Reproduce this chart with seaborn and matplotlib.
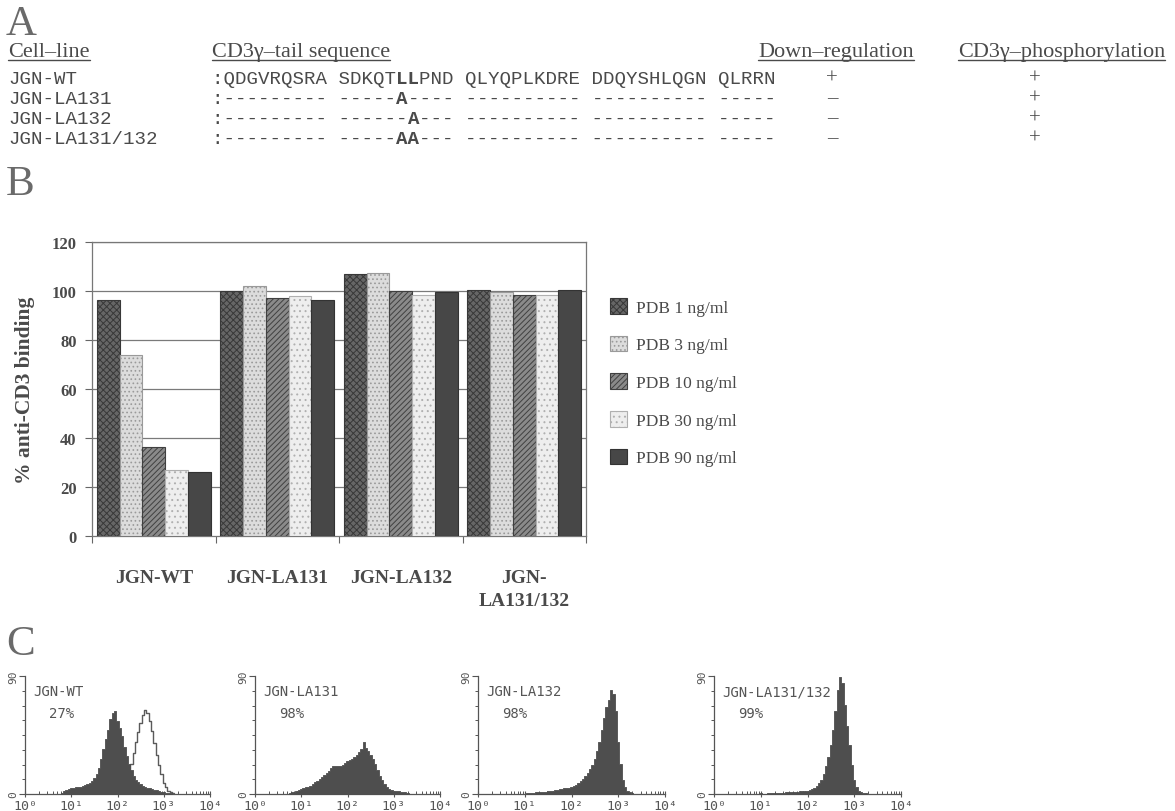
import numpy as np
import pandas as pd
import matplotlib
matplotlib.use("Agg")
import matplotlib.pyplot as plt
import seaborn as sns
from matplotlib.lines import Line2D
from matplotlib.ticker import FixedLocator, NullFormatter

# ------------------------------------------------------------------ data
cell_lines = ["JGN-WT", "JGN-LA131", "JGN-LA132", "JGN-LA131/132"]
bar_tick_labels = ["JGN-WT", "JGN-LA131", "JGN-LA132", "JGN-\nLA131/132"]
doses = ["PDB 1 ng/ml", "PDB 3 ng/ml", "PDB 10 ng/ml", "PDB 30 ng/ml", "PDB 90 ng/ml"]
binding_wt = [96.5, 74, 36.5, 27, 26]
binding_la131 = [100, 102, 97, 98, 96.5]
binding_la132 = [107, 107.5, 100, 98.5, 99.5]
binding_la131_132 = [100.5, 99.5, 98.5, 98.5, 100.5]
y_ticks = [0, 20, 40, 60, 80, 100, 120]

sequences = [
    ":QDGVRQSRA SDKQTLLPND QLYQPLKDRE DDQYSHLQGN QLRRN",
    ":--------- -----A---- ---------- ---------- -----",
    ":--------- ------A--- ---------- ---------- -----",
    ":--------- -----AA--- ---------- ---------- -----",
]
bold_positions = [[16, 17], [16], [17], [16, 17]]
down_regulation = ["+", "\u2013", "\u2013", "\u2013"]
phosphorylation = ["+", "+", "+", "+"]
headers = ["Cell\u2013line", "CD3\u03b3\u2013tail sequence", "Down\u2013regulation",
           "CD3\u03b3\u2013phosphorylation"]

hist_pct = ["27%", "98%", "98%", "99%"]
decade_labels = ["10\u2070", "10\u00b9", "10\u00b2", "10\u00b3", "10\u2074"]
# flow-cytometry histograms: first log10 channel (bin centre, 0.05-decade bins) and counts
wt_start = 0.80
wt_counts = [0.5, 2, 3, 3.5, 4.4, 4.5, 5, 5.3, 5.7, 6, 6.6, 7.5, 8.6, 10, 12, 15.5, 20, 27,
             34, 42, 49, 57, 62, 63, 56, 50, 44, 36, 29, 23, 18, 14, 11, 9, 7.4, 6.3, 5.4,
             4.8, 4.2, 3.7, 3.2, 2.7, 2.2, 1.8, 1.5, 1.1, 0.7, 0.4]
wt_control_start = 2.00
wt_control_counts = [3, 4, 6, 9, 12, 17, 23, 31, 40, 47, 54, 60, 64, 62, 56, 48, 39, 30, 22,
                     15, 8.6, 5, 2.5, 1.2, 0.5]
la131_start = 0.75
la131_counts = [0.8, 1.3, 1.6, 2, 3, 3.8, 4.4, 5, 5.6, 6.3, 7.6, 9, 10, 11.4, 13, 14.5, 16,
                17.8, 19.5, 21, 21, 21, 21.5, 22, 23.5, 25, 26, 27, 28.5, 30, 32, 34, 40, 35,
                33, 30, 27, 23, 18, 14, 10.5, 7.6, 5.5, 3.8, 3, 2.5, 2.2, 2, 1.9, 1.8, 1.4, 1]
la132_start = 1.05
la132_counts = [0.8, 1, 1, 1, 1.2, 1.3, 1.5, 1.6, 1.9, 2.1, 2.4, 2.6, 3, 3.3, 3.7, 4, 4.2,
                4.5, 4.8, 5, 6, 7, 8.3, 9.7, 11.5, 13.6, 16, 19, 22.5, 27, 33, 40, 49, 58, 66,
                72, 79, 76, 63, 40, 23, 11, 5, 2.6, 1.6, 1]
la131_132_start = 1.00
la131_132_counts = [1, 0.3, 0.3, 0.8, 0.5, 0.8, 1, 0.8, 1, 1, 1.1, 1.2, 1.3, 1.4, 1.5, 1.6,
                    1.8, 2, 2.2, 2.4, 2.6, 3, 3.7, 4.8, 6.3, 8.5, 11, 15, 21, 28, 37, 49, 63,
                    79, 89, 85, 68, 52, 37, 22, 11, 5.5, 2.6, 1.6, 1, 0.5]

# ------------------------------------------------------------------ style
sns.set_theme(style="white")
SERIF = "Liberation Serif"
MONO = "Liberation Mono"
PIX = "DejaVu Sans Mono"
TXT = "#4a4a4a"
plt.rcParams["font.family"] = ["DejaVu Sans"]
plt.rcParams["hatch.linewidth"] = 0.7

W, H = 1175, 812
fig = plt.figure(figsize=(W / 100, H / 100), dpi=100, facecolor="white")


def fx(px):
    return px / W


def fy(py):
    return 1 - py / H


def ax_rect(x0, y0, x1, y1):
    return [fx(x0), fy(y1), fx(x1) - fx(x0), fy(y0) - fy(y1)]


# ------------------------------------------------------------------ panel A
for letter, ybase in [("A", 35), ("B", 195), ("C", 655)]:
    fig.text(fx(6), fy(ybase), letter, family=SERIF, fontsize=31, color="#6a6a6a",
             ha="left", va="baseline")

header_x = [8, 212, 758, 958]
header_base = 57
header_texts = []
for hx, htxt in zip(header_x, headers):
    header_texts.append(fig.text(fx(hx), fy(header_base), htxt, family=SERIF, fontsize=16,
                                 color=TXT, ha="left", va="baseline"))


def segments(seq, bold):
    """split a sequence row into runs of plain / bold characters"""
    runs = []
    start = 0
    for i in range(1, len(seq) + 1):
        if i == len(seq) or ((i in bold) != (start in bold)):
            runs.append((start, seq[start:i], start in bold))
            start = i
    return runs


row_y = [79, 99, 119, 139]
mono_size = 13.8
char_w = mono_size * 100 / 72 * 0.6
seq_x = 212
for name, seq, bold, dr, ph, ry in zip(cell_lines, sequences, bold_positions,
                                       down_regulation, phosphorylation, row_y):
    fig.text(fx(8), fy(ry), name, family=MONO, fontsize=mono_size, color=TXT,
             ha="left", va="center")
    for st, run, is_bold in segments(seq, bold):
        fig.text(fx(seq_x + st * char_w), fy(ry), run, family=MONO, fontsize=mono_size,
                 color=TXT, weight="bold" if is_bold else "normal", ha="left", va="center")
    fig.text(fx(832), fy(ry), dr, family=SERIF, fontsize=15, color=TXT, ha="center",
             va="center")
    fig.text(fx(1035), fy(ry), ph, family=SERIF, fontsize=15, color=TXT, ha="center",
             va="center")

# ------------------------------------------------------------------ panel B
df = pd.DataFrame({
    "cell": np.repeat(cell_lines, len(doses)),
    "dose": doses * len(cell_lines),
    "value": binding_wt + binding_la131 + binding_la132 + binding_la131_132,
})
face_colors = ["#666666", "#dcdcdc", "#8a8a8a", "#eeeeee", "#474747"]
edge_colors = ["#383838", "#9a9a9a", "#404040", "#b0b0b0", "#333333"]
hatches = ["xxxxx", "....", "//////", "...", ""]

axb = fig.add_axes(ax_rect(92, 243, 586, 537))
sns.barplot(data=df, x="cell", y="value", hue="dose", hue_order=doses, order=cell_lines,
            palette=face_colors, width=0.92, gap=0, legend=False, ax=axb,
            saturation=1, linewidth=0.8, zorder=3)
for cont, fc, ec, hh in zip(axb.containers, face_colors, edge_colors, hatches):
    for bar in cont:
        bar.set_facecolor(fc)
        bar.set_edgecolor(ec)
        bar.set_hatch(hh)
        bar.set_linewidth(0.8)

axb.set_ylim(0, 120)
axb.set_xlim(-0.5, 3.5)
axb.set_yticks(y_ticks)
axb.set_yticklabels([str(t) for t in y_ticks], family=SERIF, weight="bold", fontsize=12,
                    color=TXT)
axb.set_xticks(range(len(cell_lines)))
axb.set_xticklabels(bar_tick_labels, family=SERIF, weight="bold", fontsize=14, color=TXT,
                    linespacing=1.45)
axb.xaxis.set_minor_locator(FixedLocator([-0.5, 0.5, 1.5, 2.5, 3.5]))
axb.tick_params(axis="x", which="major", length=0, pad=24)
axb.tick_params(axis="x", which="minor", length=5, width=0.8, color="#666", direction="out",
                bottom=True)
axb.tick_params(axis="y", length=5, width=0.8, color="#666", direction="out", left=True,
                pad=6)
axb.set_xlabel("")
axb.set_ylabel("% anti-CD3 binding", family=SERIF, weight="bold", fontsize=15.5, color=TXT,
               labelpad=12)
for t in y_ticks[1:]:
    axb.axhline(t, color="#7a7a7a", lw=0.9, zorder=1)
for s in axb.spines.values():
    s.set_visible(True)
    s.set_color("#777")
    s.set_linewidth(0.9)

leg_handles = [cont.patches[0] for cont in axb.containers]
fig.legend(leg_handles, doses, loc="upper left", bbox_to_anchor=(fx(610), fy(299)),
           frameon=False, prop={"family": SERIF, "size": 12.5}, labelcolor=TXT,
           labelspacing=1.15, handlelength=1.0, handleheight=1.0, handletextpad=0.5,
           borderpad=0, borderaxespad=0)

# ------------------------------------------------------------------ panel C
hist_x = [(25, 210), (255, 440), (478, 665), (714, 901)]
hist_data = [(wt_start, wt_counts), (la131_start, la131_counts),
             (la132_start, la132_counts), (la131_132_start, la131_132_counts)]
bw = 0.05
for k, ((x0, x1), (st, cnt)) in enumerate(zip(hist_x, hist_data)):
    ax = fig.add_axes(ax_rect(x0, 677, x1, 795))
    if k == 0:
        centres_c = wt_control_start + bw * np.arange(len(wt_control_counts))
        sns.histplot(x=10 ** centres_c, weights=wt_control_counts, log_scale=True,
                     binwidth=bw, binrange=(centres_c[0] - bw / 2, centres_c[-1] + bw / 2),
                     element="step", fill=False, color="#5a5a5a", linewidth=1.0, ax=ax,
                     zorder=2)
    centres = st + bw * np.arange(len(cnt))
    sns.histplot(x=10 ** centres, weights=cnt, log_scale=True, binwidth=bw,
                 binrange=(centres[0] - bw / 2, centres[-1] + bw / 2), element="step",
                 fill=True, color="#4e4e4e", alpha=1, linewidth=0.6, ax=ax, zorder=3)
    ax.set_xlim(1, 1e4)
    ax.set_ylim(0, 90)
    ax.set_xlabel("")
    ax.set_ylabel("")
    ax.set_facecolor("none")
    for s in ["top", "right"]:
        ax.spines[s].set_visible(False)
    for s in ["left", "bottom"]:
        ax.spines[s].set_color("#555")
        ax.spines[s].set_linewidth(0.9)
    ax.set_xticks([1, 10, 100, 1000, 10000])
    ax.set_xticklabels(decade_labels, family=PIX, fontsize=9.5, color="#555")
    ax.xaxis.set_minor_locator(FixedLocator(
        [m * 10 ** d for d in range(4) for m in range(2, 10)]))
    ax.xaxis.set_minor_formatter(NullFormatter())
    ax.tick_params(axis="x", which="major", length=5, width=0.8, color="#555",
                   direction="inout", pad=1, bottom=True)
    ax.tick_params(axis="x", which="minor", length=2.5, width=0.7, color="#555",
                   direction="in", bottom=True)
    ax.set_yticks([0, 90])
    ax.set_yticklabels(["0", "90"], family=PIX, fontsize=8, color="#555", rotation=90,
                       va="center")
    ax.yaxis.set_minor_locator(FixedLocator([90 / 8 * i for i in range(1, 8)]))
    ax.tick_params(axis="y", which="major", length=4, width=0.8, color="#555",
                   direction="out", pad=1, left=True)
    ax.tick_params(axis="y", which="minor", length=2.5, width=0.7, color="#555",
                   direction="out", left=True)
    ax.text(0.045, 0.87, cell_lines[k], transform=ax.transAxes, family=PIX, fontsize=10,
            color="#555", ha="left", va="center")
    ax.text(0.13, 0.69, hist_pct[k], transform=ax.transAxes, family=PIX, fontsize=10,
            color="#555", ha="left", va="center")
    ax.grid(False)

# underlines for the panel A headers
fig.canvas.draw()
renderer = fig.canvas.get_renderer()
for t in header_texts:
    bb = t.get_window_extent(renderer)
    yl = fy(header_base + 4)
    fig.add_artist(Line2D([bb.x0 / W, bb.x1 / W], [yl, yl], color=TXT, lw=1.0))

fig.savefig("out.png", dpi=100, facecolor="white")
